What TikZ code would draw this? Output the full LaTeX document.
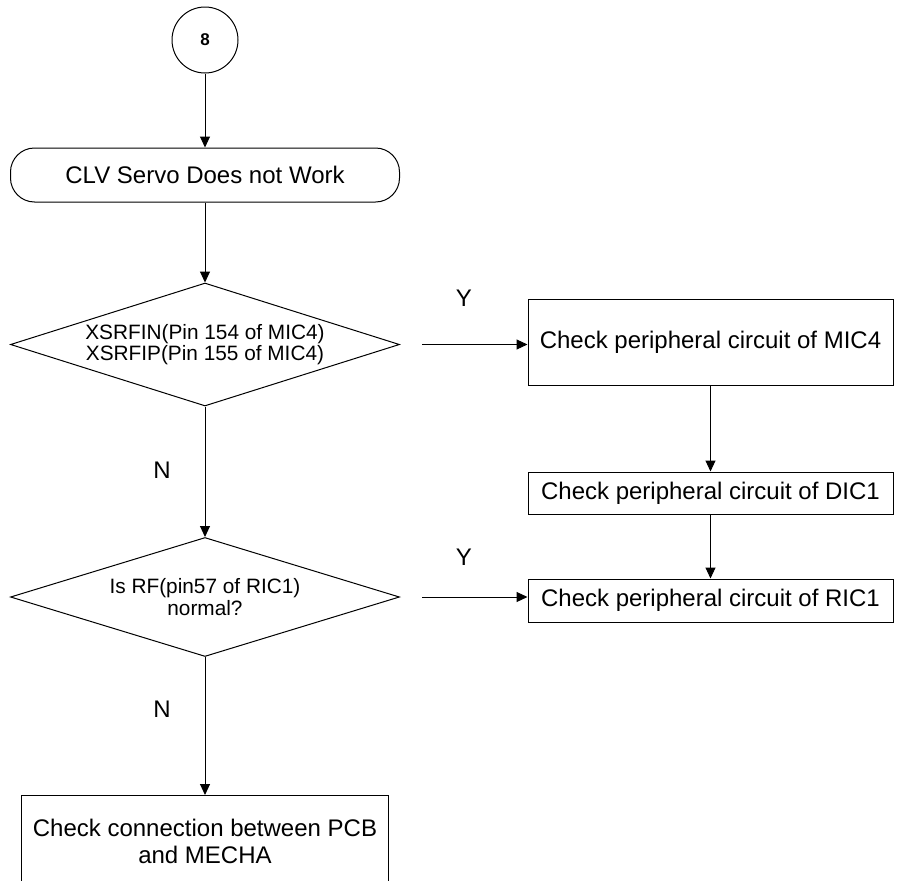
\documentclass[tikz,border=0pt]{standalone}
\usepackage{fontspec}
\setmainfont{Liberation Sans}
\usetikzlibrary{shapes.geometric,arrows.meta}
\tikzset{>={Triangle[length=11pt,width=10pt]}}
\tikzset{
  connector/.style={draw,circle,minimum size=66pt,inner sep=0pt,font=\bfseries\fontsize{17}{17}\selectfont},
  startbox/.style={draw,rectangle,rounded corners=24pt,minimum width=389pt,minimum height=54pt,inner sep=0pt,font=\fontsize{24}{27}\selectfont},
  stepbox/.style={draw,rectangle,minimum width=365pt,inner sep=0pt,align=center,font=\fontsize{24}{27}\selectfont},
  decision/.style={draw,diamond,aspect=3.16,minimum width=389pt,inner sep=0pt,align=center,font=\fontsize{20.8}{21.5}\selectfont},
  yn/.style={font=\fontsize{24}{24}\selectfont}
}

\begin{document}
\begin{tikzpicture}[x=1pt,y=-1pt,line width=1pt]
\clip (0,0) rectangle (898,881);
\node[connector] (c8) at (205,40) {8};
\node[startbox] (start) at (205,175) {CLV Servo Does not Work};
\node[decision,minimum height=123pt] (dec1) at (205,344.5) {XSRFIN(Pin 154 of MIC4)\\XSRFIP(Pin 155 of MIC4)};
\node[decision,minimum height=119pt] (dec2) at (205,597) {Is RF(pin57 of RIC1)\\normal?};
\node[stepbox,minimum height=86pt] (mic4) at (710.5,342) {Check peripheral circuit of MIC4};
\node[stepbox,minimum height=42pt] (dic1) at (710.5,493) {Check peripheral circuit of DIC1};
\node[stepbox,minimum height=43pt] (ric1) at (710.5,600.5) {Check peripheral circuit of RIC1};
\node[stepbox,minimum width=366.5pt,minimum height=92pt,anchor=north] (pcb) at (205,795) {Check connection between PCB\\and MECHA};
\node[yn] (y1) at (464,298) {Y};
\node[yn] (y2) at (464,557) {Y};
\node[yn] (n1) at (162,470) {N};
\node[yn] (n2) at (162,709) {N};
\draw[->] (c8) -- (start);
\draw[->] (start) -- (dec1);
\draw[->] (dec1) -- (dec2);
\draw[->] (dec2) -- (pcb);
\draw[->,shorten <=22pt] (dec1.east) -- (dec1.east -| mic4.west);
\draw[->,shorten <=22pt] (dec2.east) -- (dec2.east -| ric1.west);
\draw[->] (mic4) -- (dic1);
\draw[->] (dic1) -- (ric1);
\end{tikzpicture}
\end{document}
